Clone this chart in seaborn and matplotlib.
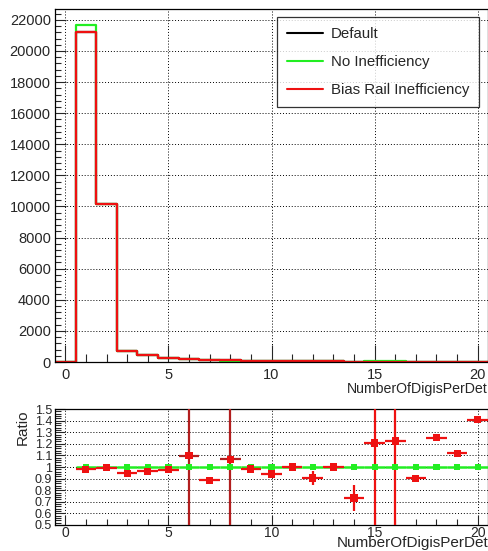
import numpy as np
import pandas as pd
import matplotlib
matplotlib.use("Agg")
import matplotlib.pyplot as plt
import seaborn as sns
from matplotlib.ticker import MultipleLocator

sns.set_style("white")
plt.rcParams['font.family'] = ['Liberation Sans', 'DejaVu Sans']

# ---- data ----
bins = list(range(0, 21))
default_counts = [0, 21250, 10150, 690, 430, 280, 195, 130, 100, 80, 60, 50, 40, 35, 30, 28, 25, 18, 15, 12, 10]
noineff_counts = [0, 21650, 10180, 710, 445, 287, 178, 147, 94, 81, 64, 50, 44, 35, 32, 45, 45, 20, 12, 11, 7]
biasrail_counts = [0, 21250, 10150, 690, 430, 280, 195, 130, 100, 80, 60, 50, 40, 35, 30, 28, 25, 18, 15, 12, 10]

ratio_bins = list(range(1, 21))
ratio_green = [1.0] * 20
ratio_red = [0.981, 0.995, 0.945, 0.963, 0.977, 1.098, 0.885, 1.066, 0.983, 0.94,
             1.0, 0.905, 1.0, 0.733, 1.207, 1.224, 0.903, 1.253, 1.117, 1.408]
ratio_red_err = [0.004, 0.005, 0.01, 0.01, 0.01, 5.0, 0.02, 5.0, 0.01, 0.015,
                 0.01, 0.06, 0.01, 0.115, 5.0, 5.0, 0.01, 0.01, 0.01, 0.01]

legend_labels = ["Default", "No Inefficiency", "Bias Rail Inefficiency"]
colors = ["black", "#22ee22", "#ee1111"]

df = pd.DataFrame({
    "x": bins * 3,
    "w": default_counts + noineff_counts + biasrail_counts,
    "series": [legend_labels[0]] * 21 + [legend_labels[1]] * 21 + [legend_labels[2]] * 21,
})

fig = plt.figure(figsize=(4.89, 5.51), dpi=100)
ax = fig.add_axes([0.1125, 0.343, 0.8855, 0.6407])
ax2 = fig.add_axes([0.1125, 0.0472, 0.8855, 0.2105])

for lab, col in zip(legend_labels, colors):
    sub = df[df.series == lab]
    sns.histplot(data=sub, x="x", weights="w", binwidth=1, binrange=(-0.5, 20.5),
                 element="step", fill=False, color=col, linewidth=1.6, ax=ax, label=lab)

ax.set_xlim(-0.5, 20.5)
ax.set_ylim(0, 22700)
ax.xaxis.set_major_locator(MultipleLocator(5))
ax.xaxis.set_minor_locator(MultipleLocator(1))
ax.yaxis.set_major_locator(MultipleLocator(2000))
ax.yaxis.set_minor_locator(MultipleLocator(400))
ax.tick_params(axis="both", which="both", bottom=True, left=True, top=False, right=False)
ax.tick_params(axis="y", which="major", direction="in", length=8, width=0.8, labelsize=10.5, pad=3)
ax.tick_params(axis="x", which="major", direction="in", length=12, width=0.8, labelsize=10.5, pad=4)
ax.tick_params(axis="y", which="minor", direction="in", length=4, width=0.8)
ax.tick_params(axis="x", which="minor", direction="in", length=6, width=0.8)
ax.grid(True, which="major", linestyle=(0, (1, 2)), color="black", linewidth=0.7)
ax.set_ylabel("")
ax.set_xlabel("NumberOfDigisPerDet", fontsize=10.2, loc="right", labelpad=0)
for s in ax.spines.values():
    s.set_color("black")
    s.set_linewidth(0.9)

handles = [plt.Line2D([], [], color=c, linewidth=1.5) for c in colors]
leg = ax.legend(handles, legend_labels, loc="upper right", bbox_to_anchor=(0.979, 0.977),
                borderaxespad=0, fontsize=10.8, frameon=True, fancybox=False, handlelength=2.4,
                labelspacing=0.95, borderpad=0.65, handletextpad=0.55)
leg.get_frame().set_edgecolor("black")
leg.get_frame().set_linewidth(0.9)

# ---- ratio panel ----
rdf = pd.DataFrame({"x": ratio_bins, "green": ratio_green, "red": ratio_red})
ax2.errorbar(ratio_bins, ratio_green, xerr=0.5, fmt="none", ecolor="#22ee22", elinewidth=1.8, zorder=3)
dark = ["#b21e1e" if e > 1 and x < 10 else "#ee1111" for x, e in zip(ratio_bins, ratio_red_err)]
for x, y, e, c in zip(ratio_bins, ratio_red, ratio_red_err, dark):
    ax2.errorbar([x], [y], xerr=0.5, yerr=e, fmt="none", ecolor=c, elinewidth=1.6, zorder=4)
sns.scatterplot(data=rdf, x="x", y="green", marker="s", color="#22ee22", s=20, edgecolor="none",
                ax=ax2, zorder=5)
sns.scatterplot(data=rdf, x="x", y="red", marker="s", color="#ee1111", s=26, edgecolor="none",
                ax=ax2, zorder=6)
ax2.set_xlim(-0.5, 20.5)
ax2.set_ylim(0.5, 1.5)
ax2.xaxis.set_major_locator(MultipleLocator(5))
ax2.xaxis.set_minor_locator(MultipleLocator(1))
ax2.yaxis.set_minor_locator(MultipleLocator(0.02))
ax2.set_yticks(np.round(np.arange(0.5, 1.51, 0.1), 1))
ax2.set_yticklabels(["0.5", "0.6", "0.7", "0.8", "0.9", "1", "1.1", "1.2", "1.3", "1.4", "1.5"])
ax2.tick_params(axis="both", which="both", bottom=True, left=True, top=False, right=False)
ax2.tick_params(axis="y", which="major", direction="in", length=7, width=0.8, labelsize=9, pad=2)
ax2.tick_params(axis="x", which="major", direction="in", length=7, width=0.8, labelsize=10, pad=1)
ax2.tick_params(axis="both", which="minor", direction="in", length=4, width=0.8)
ax2.grid(True, which="major", linestyle=(0, (1, 2)), color="black", linewidth=0.7)
ax2.set_xlabel("NumberOfDigisPerDet", fontsize=11, loc="right", labelpad=-3.5)
ax2.set_ylabel("Ratio", fontsize=11, loc="top", labelpad=4)
for s in ax2.spines.values():
    s.set_color("black")
    s.set_linewidth(0.9)

fig.savefig("out.png", dpi=100)
